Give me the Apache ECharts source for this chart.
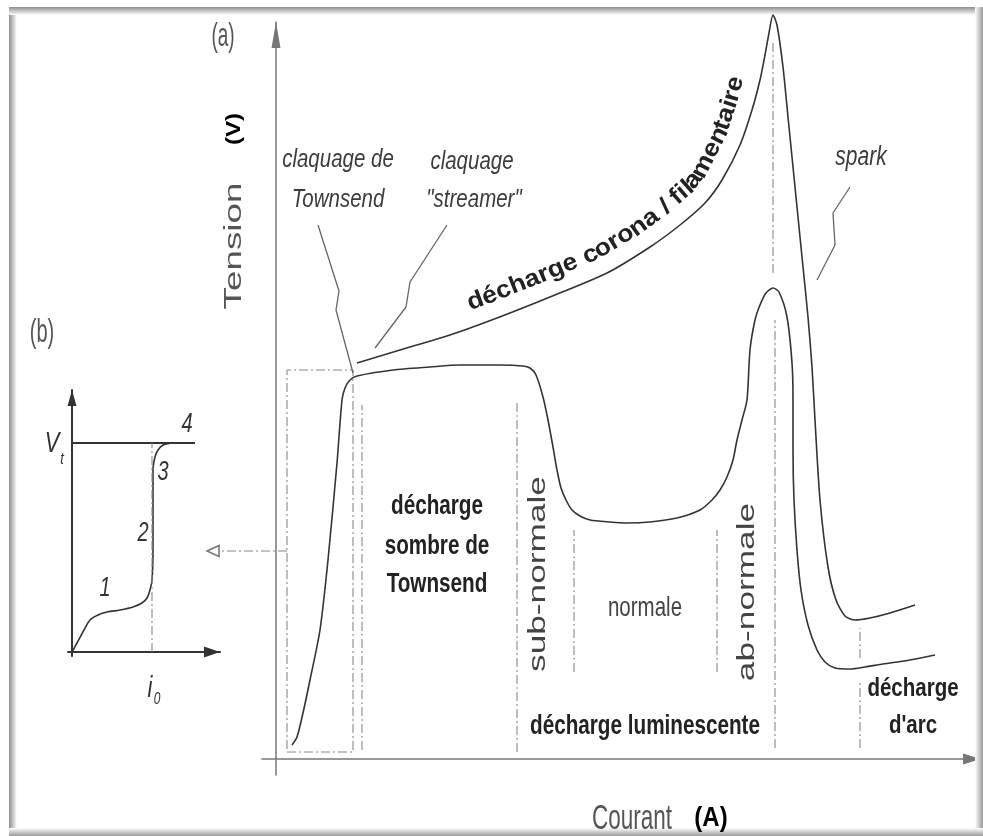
<!DOCTYPE html>
<html><head><meta charset="utf-8">
<script src="https://cdn.jsdelivr.net/npm/echarts@6/dist/echarts.min.js"></script>
<style>html,body{margin:0;padding:0;background:#fff}#c{width:983px;height:836px}</style>
</head><body><div id="c"></div>
<script>
// ---- Data (arbitrary units: x = courant, y = tension) ----
const lowerCurve = [[16,14],[21,22],[27,46],[34,79],[44,129],[52,199],[61,296],[66,359],[69,371],[74,379],[81,383],[117,389],[154,392],[184,394],[224,394],[247,393],[254,391],[260,384],[267,362],[272,339],[277,312],[281,289],[285,271],[290,259],[296,249],[304,243],[314,239],[334,237],[351,236],[374,237],[401,241],[424,249],[436,259],[444,269],[451,282],[457,299],[461,319],[466,339],[471,359],[474,409],[479,439],[484,454],[490,466],[497,471],[503,467],[511,442],[516,396],[517,359],[517,309],[518,259],[521,209],[525,169],[532,134],[541,109],[549,97],[559,91],[574,90],[589,92],[607,95],[634,99],[659,104]];
const upperCurve = [[81,396],[124,409],[174,424],[221,441],[274,462],[331,486],[374,512],[404,534],[429,556],[446,579],[464,614],[476,649],[484,679],[489,704],[493,726],[497,744],[501,734],[507,692],[512,642],[517,592],[522,542],[527,492],[532,442],[536,392],[539,339],[544,259],[552,192],[560,159],[569,143],[579,139],[594,141],[614,146],[639,154]];
const townsendBox = [[11,7],[77,7],[77,389],[11,389],[11,7]];
const regionBounds = [[86,9,354],[241,7,356],[298,87,229],[441,87,229],[499,11,439],[497,486,719],[584,101,131],[584,11,79]];
const boxPointer = [[11,208],[-57,208]];
const boxPointerHead = [[-63,208]];
const townsendLeader = [[42,534],[63,468],[60,449],[77,386]];
const streamerLeader = [[171,534],[134,477],[130,452],[99,411]];
const sparkLeader = [[574,572],[557,546],[559,514],[541,479]];
// inset (b)
const insetCurve = [[0,0],[5,9],[12,22],[18,32],[26,37],[35,40],[48,42],[61,45],[70,49],[75,54],[78,62],[80,72],[81,102],[81,152],[81,182],[83,195],[86,202],[91,207],[100,209]];
const insetVt = [[0,209],[123,209]];
const insetI0 = [[80,0],[80,209]];
const coronaLabel = 'décharge corona / filamentaire';

const chart = echarts.init(document.getElementById('c'), null, {renderer:'canvas'});
const FONT = '"Liberation Sans", Arial, sans-serif';
const DASHDOT = [9,3,2,3];

function ln(data, color, width, type, g, extra) {
  return Object.assign({type:'line', data, xAxisIndex:g, yAxisIndex:g, symbol:'none', showSymbol:false,
    clip:false, silent:true, animation:false, lineStyle:{color, width, type}}, extra || {});
}
const series = [];
series.push(ln(lowerCurve, '#333', 1.6, 'solid', 0, {smooth:0.25}));
series.push(ln(upperCurve, '#333', 1.6, 'solid', 0, {smooth:0.25}));
series.push(ln(townsendBox, '#888', 1.1, DASHDOT, 0));
regionBounds.forEach(b => series.push(ln([[b[0],b[1]],[b[0],b[2]]], '#888', 1.1, DASHDOT, 0)));
series.push({type:'scatter', data:boxPointerHead, xAxisIndex:0, yAxisIndex:0, symbol:'triangle', symbolRotate:90,
  symbolSize:[11,12], clip:false, silent:true, animation:false, itemStyle:{color:'#fff', borderColor:'#555', borderWidth:1.5}});
[townsendLeader, streamerLeader, sparkLeader].forEach(d => series.push(ln(d, '#666', 1.3, 'solid', 0)));
series.push(ln(insetCurve, '#333', 1.6, 'solid', 1, {smooth:0.3}));
series.push(ln(insetVt, '#333', 1.8, 'solid', 1));
series.push(ln(insetI0, '#888', 1.1, DASHDOT, 1));

function axis(g, min, max, color, w, ss, so) {
  return {type:'value', gridIndex:g, min, max, axisTick:{show:false}, axisLabel:{show:false}, splitLine:{show:false},
    axisLine:{show:true, onZero:true, symbol:['none','triangle'], symbolSize:ss, symbolOffset:[0,so], lineStyle:{color, width:w}}};
}
chart.setOption({
  backgroundColor:'#ffffff',
  animation:false,
  grid:[{left:262, right:2, top:22, bottom:61}, {left:68, right:763, top:390, bottom:180}],
  xAxis:[axis(0,-14,705,'#777',1.5,[11,18],-9), axis(1,-4,148,'#333',2,[11,16],-8)],
  yAxis:[axis(0,-16,737,'#777',1.5,[9,26],-13), axis(1,-4,262,'#333',2,[9,16],-8)],
  series
});

function txt(x, y, s, o) {
  o = o || {};
  return {type:'text', x, y, rotation:o.rot||0, scaleX:o.sx||1, scaleY:o.sy||1, silent:true, z:20,
    style:{text:s, fontSize:o.size||20, fontWeight:o.bold?'bold':'normal', fontStyle:o.italic?'italic':'normal',
      fontFamily:FONT, fill:o.color||'#333', align:o.align||'center', verticalAlign:o.va||'middle'}};
}
const R = Math.PI/2;
const g = [];
// frame
const band = (x,y,w,h,x2,y2) => ({type:'rect', shape:{x,y,width:w,height:h}, silent:true, z:1,
  style:{fill:{type:'linear', x:0, y:0, x2, y2, colorStops:[{offset:0,color:'#8e8e8e'},{offset:1,color:'#ffffff'}]}}});
g.push(band(9,7,8,829,1,0));
g.push(band(9,7,974,8,0,1));
g.push({...band(975,7,8,829,1,0), style:{fill:{type:'linear',x:0,y:0,x2:1,y2:0,colorStops:[{offset:0,color:'#fff'},{offset:1,color:'#999'}]}}});
g.push({...band(9,828,974,8,0,1), style:{fill:{type:'linear',x:0,y:0,x2:0,y2:1,colorStops:[{offset:0,color:'#fff'},{offset:1,color:'#999'}]}}});

// dashed pointer from the Townsend box to inset (b), placed through the axis scales
const bp = boxPointer.map(p => chart.convertToPixel({gridIndex:0}, p));
g.push({type:'polyline', shape:{points:bp}, silent:true, z:15, style:{stroke:'#888', lineWidth:1.1, lineDash:DASHDOT, fill:null}});

g.push(txt(223,37,'(a)',{size:19, sy:1.7, color:'#555'}));
g.push(txt(42,333,'(b)',{size:20, sy:1.7, color:'#555'}));
g.push(txt(235,246,'Tension',{size:23, rot:R, sx:1.6, color:'#555'}));
g.push(txt(234,129,'(V)',{size:21, rot:R, sx:1.15, bold:true, color:'#000'}));
g.push(txt(338,160,'claquage de',{size:20.5, italic:true, sy:1.3, color:'#3c3c3c'}));
g.push(txt(338,200,'Townsend',{size:20.5, italic:true, sy:1.3, color:'#3c3c3c'}));
g.push(txt(472,162,'claquage',{size:20.5, italic:true, sy:1.3, color:'#3c3c3c'}));
g.push(txt(474,200,'"streamer"',{size:20.5, italic:true, sy:1.3, color:'#3c3c3c'}));
g.push(txt(861,157,'spark',{size:21, italic:true, sy:1.3, color:'#3c3c3c'}));
g.push(txt(437,507,'décharge',{size:20.7, bold:true, sy:1.3, color:'#222'}));
g.push(txt(437,547,'sombre de',{size:20.7, bold:true, sy:1.3, color:'#222'}));
g.push(txt(437,585,'Townsend',{size:20.7, bold:true, sy:1.3, color:'#222'}));
g.push(txt(539,574,'sub-normale',{size:23.5, rot:R, sx:1.5, color:'#444'}));
g.push(txt(645,608,'normale',{size:20.5, sy:1.36, color:'#444'}));
g.push(txt(748,592,'ab-normale',{size:23.5, rot:R, sx:1.5, color:'#444'}));
g.push(txt(645,727,'décharge luminescente',{size:20.7, bold:true, sy:1.3, color:'#222'}));
g.push(txt(913,689,'décharge',{size:20.5, bold:true, sy:1.3, color:'#222'}));
g.push(txt(913,726,"d'arc",{size:20.5, bold:true, sy:1.3, color:'#222'}));
g.push(txt(632,819,'Courant',{size:22.5, sy:1.6, color:'#555'}));
g.push(txt(711,818,'(A)',{size:24, bold:true, sy:1.15, color:'#000'}));
// inset labels
g.push(txt(52,444,'V',{size:22, italic:true, sy:1.35, color:'#333'}));
g.push(txt(62,459,'t',{size:13, italic:true, sy:1.3, color:'#333'}));
g.push(txt(187,424,'4',{size:20, italic:true, sy:1.4, color:'#333'}));
g.push(txt(163,472,'3',{size:20, italic:true, sy:1.4, color:'#333'}));
g.push(txt(143,533,'2',{size:20, italic:true, sy:1.4, color:'#333'}));
g.push(txt(105,588,'1',{size:20, italic:true, sy:1.4, color:'#333'}));
g.push(txt(150,689,'i',{size:22, italic:true, sy:1.3, color:'#333'}));
g.push(txt(157,700,'0',{size:12, italic:true, sy:1.3, color:'#333'}));

// curved label along the corona curve
(function(){
  const OFF = 11, FS = 21;
  let peak = 0; upperCurve.forEach((p,i)=>{ if (p[1] > upperCurve[peak][1]) peak = i; });
  const pts = upperCurve.slice(0, peak+1).map(p => chart.convertToPixel({gridIndex:0}, p));
  const off = pts.map((p,i) => { const a = pts[Math.max(0,i-1)], b = pts[Math.min(pts.length-1,i+1)];
    const dx=b[0]-a[0], dy=b[1]-a[1], L=Math.hypot(dx,dy); return [p[0]+dy/L*OFF, p[1]-dx/L*OFF]; });
  const cum=[0]; for (let i=1;i<off.length;i++) cum.push(cum[i-1]+Math.hypot(off[i][0]-off[i-1][0], off[i][1]-off[i-1][1]));
  function sAt(test){ for (let i=1;i<off.length;i++){ const a=off[i-1], b=off[i]; const t=test(a,b); if (t!==null) return cum[i-1]+t*(cum[i]-cum[i-1]); } return cum[cum.length-1]; }
  const s0 = sAt((a,b)=> (a[0]<=472 && b[0]>472) ? (472-a[0])/(b[0]-a[0]) : null);
  const s1 = sAt((a,b)=> (a[1]>=80 && b[1]<80) ? (a[1]-80)/(a[1]-b[1]) : null);
  function at(s){ for (let i=1;i<off.length;i++){ if (s<=cum[i]){ const a=off[i-1], b=off[i]; const t=(s-cum[i-1])/(cum[i]-cum[i-1]);
      return [a[0]+t*(b[0]-a[0]), a[1]+t*(b[1]-a[1]), Math.atan2(b[1]-a[1], b[0]-a[0])]; } }
    const n=off.length; return [off[n-1][0],off[n-1][1],Math.atan2(off[n-1][1]-off[n-2][1],off[n-1][0]-off[n-2][0])]; }
  const ctx = document.createElement('canvas').getContext('2d');
  ctx.font = 'bold ' + FS + 'px ' + FONT;
  const ws = [...coronaLabel].map(c => ctx.measureText(c).width);
  const total = ws.reduce((a,b)=>a+b,0);
  const k = (s1 - s0) / total;
  let acc = 0;
  [...coronaLabel].forEach((c,i) => {
    const s = s0 + (acc + ws[i]/2) * k; acc += ws[i];
    if (c === ' ') return;
    const p = at(s);
    g.push({type:'text', x:p[0], y:p[1], rotation:-p[2], scaleX:k, scaleY:1.15, silent:true, z:20,
      style:{text:c, fontSize:FS, fontWeight:'bold', fontFamily:FONT, fill:'#222', align:'center', verticalAlign:'bottom'}});
  });
})();

chart.setOption({graphic: g});
</script></body></html>
